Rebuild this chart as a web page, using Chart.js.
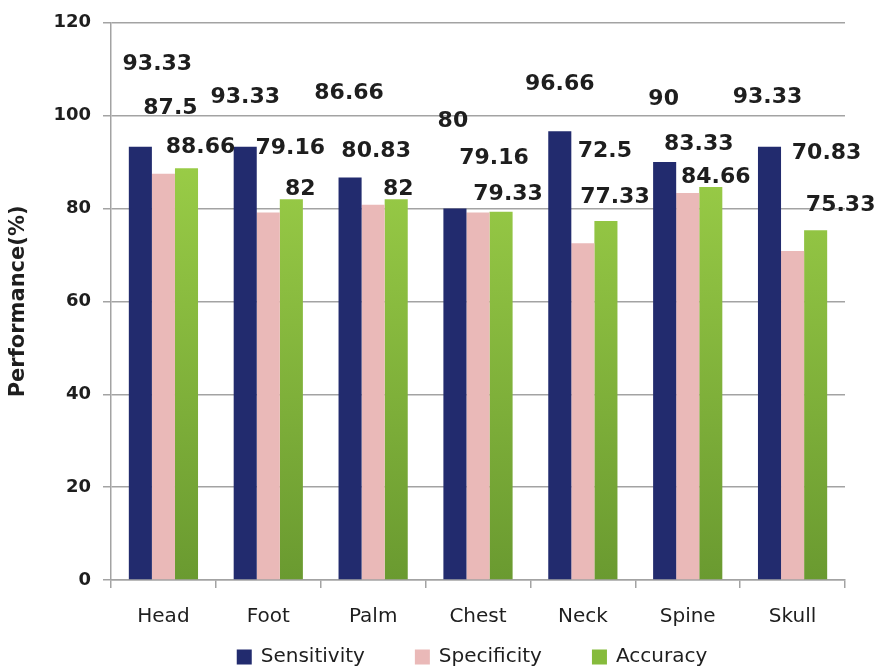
<!DOCTYPE html>
<html>
<head>
<meta charset="utf-8">
<script src="https://cdn.jsdelivr.net/npm/chart.js@4/dist/chart.umd.min.js"></script>
<style>
  body { margin: 0; background: #ffffff; }
  #wrap { width: 882px; height: 671px; }
</style>
</head>
<body>
<div id="wrap"><canvas id="myChart" width="882" height="671"></canvas></div>
<script>
const categories = ["Head", "Foot", "Palm", "Chest", "Neck", "Spine", "Skull"];
const sensitivity = [93.33, 93.33, 86.66, 80, 96.66, 90, 93.33];
const specificity = [87.5, 79.16, 80.83, 79.16, 72.5, 83.33, 70.83];
const accuracy = [88.66, 82, 82, 79.33, 77.33, 84.66, 75.33];
const seriesNames = ["Sensitivity", "Specificity", "Accuracy"];
const yTicks = [0, 20, 40, 60, 80, 100, 120];

// where each value label sits, as [dx, dy] from the top centre of its bar
// (labels in the original were dragged around by hand)
const labelNudge = [
  [[17, -82], [0, -49], [-1, -84], [-2, -87], [0, -47], [-1, -63], [-2, -49]],
  [[7, -65], [22, -64], [3, -53], [16, -54], [22, -92], [11, -49], [34, -98]],
  [[14, -21], [9, -10], [2, -10], [7, -17], [9, -24], [5, -10], [25, -25]]
];

const navy = "#222b6e";
const pink = "#eab9b8";
const gridGrey = "#a3a3a3";
const textColor = "#1e1e1e";

function greenFill(context) {
  const chart = context.chart;
  const area = chart.chartArea;
  if (!area) {
    return "#8cc63f";
  }
  const y = chart.scales.y;
  let g = chart.ctx.createLinearGradient(0, y.getPixelForValue(95), 0, y.getPixelForValue(0));
  g.addColorStop(0, "#9ccf48");
  g.addColorStop(1, "#6a9a30");
  return g;
}

function legendColor(i) {
  if (i === 0) return navy;
  if (i === 1) return pink;
  return "#86bb3c";
}

const valueLabels = {
  id: "valueLabels",
  afterDatasetsDraw(chart) {
    const ctx = chart.ctx;
    ctx.save();
    ctx.font = "bold 22px 'DejaVu Sans'";
    ctx.fillStyle = textColor;
    ctx.textAlign = "center";
    ctx.textBaseline = "middle";
    chart.data.datasets.forEach(function (ds, d) {
      const meta = chart.getDatasetMeta(d);
      meta.data.forEach(function (bar, i) {
        const nudge = labelNudge[d][i];
        ctx.fillText(String(ds.data[i]), bar.x + nudge[0], bar.y + nudge[1]);
      });
    });
    ctx.restore();
  }
};

const bottomLegend = {
  id: "bottomLegend",
  afterDraw(chart) {
    const ctx = chart.ctx;
    const box = 15;
    const gap = 9;
    const spacing = 50;
    ctx.save();
    ctx.font = "20px 'DejaVu Sans'";
    let widths = seriesNames.map(function (n) {
      return box + gap + ctx.measureText(n).width;
    });
    let total = widths.reduce(function (a, b) { return a + b; }, 0) + spacing * (seriesNames.length - 1);
    let x = (chart.chartArea.left + chart.chartArea.right) / 2 - total / 2 - 6;
    const cy = 657;
    seriesNames.forEach(function (name, i) {
      ctx.fillStyle = legendColor(i);
      ctx.fillRect(x, cy - box / 2, box, box);
      ctx.fillStyle = textColor;
      ctx.textAlign = "left";
      ctx.textBaseline = "middle";
      ctx.fillText(name, x + box + gap, cy);
      x += widths[i] + spacing;
    });
    ctx.restore();
  }
};

function createChart() {
  const chartInsertion = document.getElementById("myChart").getContext("2d");
  return new Chart(chartInsertion, {
    type: "bar",
    data: {
      labels: categories,
      datasets: [
        { label: seriesNames[0], data: sensitivity, backgroundColor: navy },
        { label: seriesNames[1], data: specificity, backgroundColor: pink },
        { label: seriesNames[2], data: accuracy, backgroundColor: greenFill }
      ]
    },
    options: {
      responsive: false,
      animation: false,
      layout: { padding: { top: 20, right: 37, bottom: 40, left: 0 } },
      datasets: {
        bar: { categoryPercentage: 0.66, barPercentage: 1.0 }
      },
      plugins: {
        legend: { display: false },
        tooltip: { enabled: false }
      },
      scales: {
        x: {
          grid: {
            offset: true,
            drawOnChartArea: false,
            drawTicks: true,
            tickLength: 8,
            color: gridGrey,
            lineWidth: 1.5
          },
          border: { display: true, color: gridGrey, width: 1.5 },
          ticks: {
            font: { family: "'DejaVu Sans'", size: 20 },
            color: textColor,
            padding: 17
          },
          afterFit: function (scale) {
            scale.height = 51;
          }
        },
        y: {
          min: yTicks[0],
          max: yTicks[yTicks.length - 1],
          afterBuildTicks: function (scale) {
            scale.ticks = yTicks.map(function (v) { return { value: v }; });
          },
          grid: {
            drawTicks: true,
            tickLength: 8,
            color: gridGrey,
            lineWidth: 1.5
          },
          border: { display: true, color: gridGrey, width: 1.5 },
          ticks: {
            font: { family: "'DejaVu Sans'", size: 18, weight: "bold" },
            color: textColor,
            padding: 12
          },
          title: {
            display: true,
            text: "Performance(%)",
            font: { family: "'DejaVu Sans'", size: 21, weight: "bold" },
            color: textColor,
            padding: { top: 6, bottom: 0 }
          },
          afterFit: function (scale) {
            scale.width = 111;
          }
        }
      }
    },
    plugins: [valueLabels, bottomLegend]
  });
}

createChart();
</script>
</body>
</html>
